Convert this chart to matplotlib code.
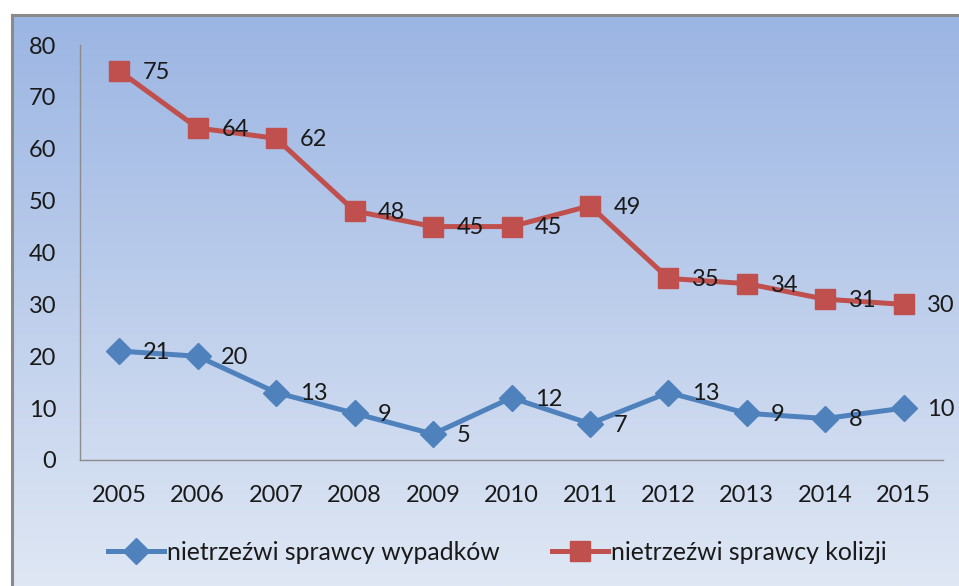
import numpy as np
import matplotlib
matplotlib.use("Agg")
import matplotlib.pyplot as plt
from matplotlib.lines import Line2D

plt.rcParams['font.family'] = ['Lato', 'DejaVu Sans']

# Data ---------------------------------------------------------------------------------------------
years     = ['2005', '2006', '2007', '2008', '2009', '2010', '2011', '2012', '2013', '2014', '2015']
wypadki   = [21, 20, 13, 9, 5, 12, 7, 13, 9, 8, 10]
kolizje   = [75, 64, 62, 48, 45, 45, 49, 35, 34, 31, 30]
yticks    = [0, 10, 20, 30, 40, 50, 60, 70, 80]
label_w   = 'nietrzeźwi sprawcy wypadków'
label_k   = 'nietrzeźwi sprawcy kolizji'

BLUE  = '#4f81bd'
RED   = '#c0504d'
TEXT  = '#1a1a1a'
FS    = 17
W, H  = 959, 586

fig = plt.figure(figsize=(W / 100, H / 100), dpi=100)
fig.patch.set_facecolor('white')

# Background gradient inside the frame
bg = fig.add_axes([12 / W, 0, 1 - 12 / W, 1 - 15 / H], zorder=-2)
grad = np.linspace(0, 1, 256).reshape(-1, 1)
top = np.array([0x9b, 0xb5, 0xe3]) / 255
bot = np.array([0xdf, 0xe7, 0xf4]) / 255
img = top[None, None, :] * (1 - grad[:, :, None]) + bot[None, None, :] * grad[:, :, None]
bg.imshow(img, aspect='auto', extent=[0, 1, 0, 1], origin='upper')
bg.axis('off')
fig.add_artist(Line2D([12 / W, 12 / W], [0, 1 - 15 / H], color='#8a8a8a', lw=2.2))
fig.add_artist(Line2D([12 / W, 1], [1 - 15 / H, 1 - 15 / H], color='#8a8a8a', lw=2.2))

# Main axes
ax = fig.add_axes([80 / W, 126 / H, (943 - 80) / W, (460 - 45) / H])
ax.patch.set_alpha(0)
x = np.arange(len(years))
ax.plot(x, wypadki, color=BLUE, lw=3.6, marker='D', ms=13.5, mec=BLUE, mfc=BLUE, label=label_w)
ax.plot(x, kolizje, color=RED, lw=3.6, marker='s', ms=14.5, mec=RED, mfc=RED, label=label_k)

for vals in (wypadki, kolizje):
    for xi, v in zip(x, vals):
        ax.annotate(str(v), (xi, v), xytext=(17, -1), textcoords='offset points',
                    ha='left', va='center', fontsize=FS, color=TEXT)

ax.set_xlim(-0.5, len(years) - 0.5)
ax.set_ylim(0, 80)
ax.set_xticks(x)
ax.set_xticklabels(years)
ax.set_yticks(yticks)
for s in ('top', 'right'):
    ax.spines[s].set_visible(False)
for s in ('left', 'bottom'):
    ax.spines[s].set_color('#8c8c8c')
    ax.spines[s].set_linewidth(1)
ax.tick_params(length=0, labelsize=FS, colors=TEXT)
ax.tick_params(axis='x', pad=18)
ax.tick_params(axis='y', pad=17)

fig.legend(loc='center', bbox_to_anchor=(497 / W, 1 - 552 / H), ncol=2, frameon=False,
           fontsize=17.8, handlelength=2.3, handletextpad=0.1, columnspacing=2.1,
           labelcolor=TEXT)

fig.savefig('out.png', dpi=100)
